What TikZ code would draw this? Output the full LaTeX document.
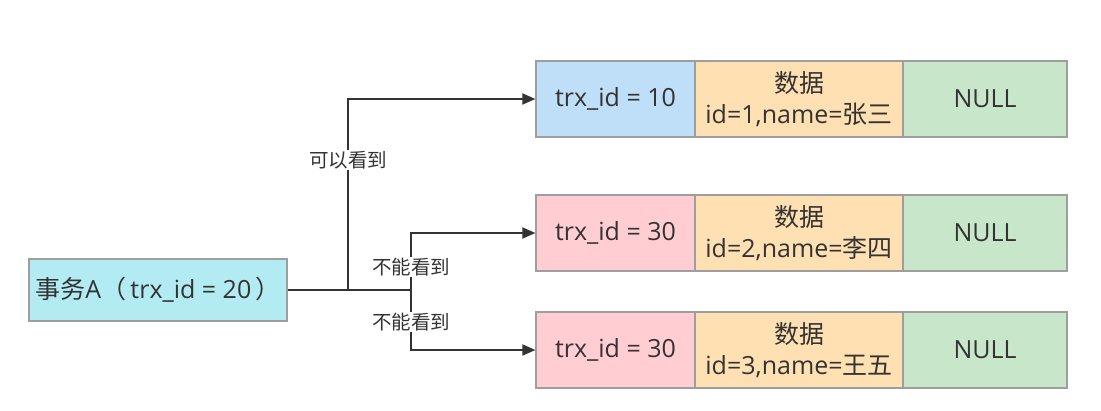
\documentclass[tikz,border=0pt]{standalone}
\usepackage{fontspec}
\setmainfont{Open Sans}
\newfontfamily\cjk{Noto Sans CJK SC}
\usetikzlibrary{arrows.meta}
\definecolor{txt}{HTML}{333333}
\definecolor{bd}{HTML}{9E9E9E}
\definecolor{cblue}{HTML}{BFDEF8}
\definecolor{corange}{HTML}{FFE0B2}
\definecolor{cgreen}{HTML}{C8E6C9}
\definecolor{cpink}{HTML}{FFCDD2}
\definecolor{ccyan}{HTML}{B2EBF2}
\tikzset{
  cell/.style={draw=bd, line width=1.2pt, inner sep=0pt, minimum height=76pt, text=txt, font=\fontsize{25}{31}\selectfont, align=center},
  conn/.style={draw=txt, line width=1.8pt},
  arr/.style={conn, -{Triangle[length=13pt,width=11pt]}},
  lbl/.style={fill=white, inner sep=1pt, text=txt, font=\cjk\fontsize{19.5}{23}\selectfont}
}
\begin{document}
\begin{tikzpicture}[x=1pt,y=-1pt]
\useasboundingbox (0,0) rectangle (1101,410);
% transaction
\node[cell, fill=ccyan, minimum width=258pt, minimum height=62pt] (ta) at (158,290) {{\cjk 事务}A{\cjk （}\,trx\_id = 20\,{\cjk ）}};
% row 1
\node[cell, fill=cblue, minimum width=159pt] (a1) at (615.5,99) {trx\_id = 10};
\node[cell, fill=corange, minimum width=208pt] (b1) at (799,99) {{\cjk 数据}\\id=1,name={\cjk 张三}};
\node[cell, fill=cgreen, minimum width=164pt] (c1) at (985,99) {NULL};
% row 2
\node[cell, fill=cpink, minimum width=159pt] (a2) at (615.5,233) {trx\_id = 30};
\node[cell, fill=corange, minimum width=208pt] (b2) at (799,233) {{\cjk 数据}\\id=2,name={\cjk 李四}};
\node[cell, fill=cgreen, minimum width=164pt] (c2) at (985,233) {NULL};
% row 3
\node[cell, fill=cpink, minimum width=159pt] (a3) at (615.5,350) {trx\_id = 30};
\node[cell, fill=corange, minimum width=208pt] (b3) at (799,350) {{\cjk 数据}\\id=3,name={\cjk 王五}};
\node[cell, fill=cgreen, minimum width=164pt] (c3) at (985,350) {NULL};
% connectors
\coordinate (j1) at (348,290);
\coordinate (j2) at (411,290);
\draw[conn] (ta.east) -- (j2);
\draw[arr] (j1) |- (a1.west);
\draw[arr] (j2) |- (a2.west);
\draw[arr] (j2) |- (a3.west);
% labels
\node[lbl] (l1) at (348,160) {可以看到};
\node[lbl] (l2) at (411,267) {不能看到};
\node[lbl] (l3) at (411,322) {不能看到};
\end{tikzpicture}
\end{document}
